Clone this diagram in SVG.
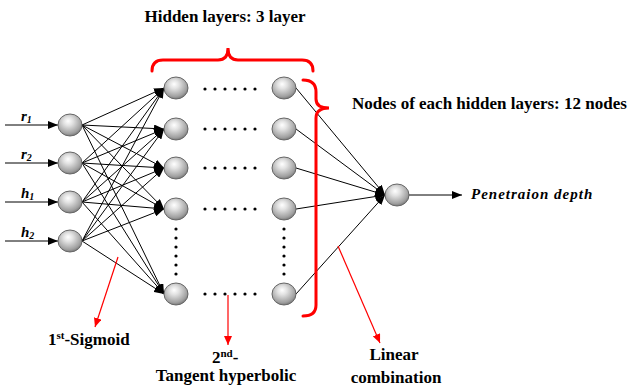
<svg xmlns="http://www.w3.org/2000/svg" width="634" height="389" viewBox="0 0 634 389">
<defs>
<radialGradient id="sphere" cx="0.45" cy="0.38" r="0.65" fx="0.42" fy="0.32">
<stop offset="0" stop-color="#ffffff"/>
<stop offset="0.3" stop-color="#e2e2e2"/>
<stop offset="0.8" stop-color="#a0a0a0"/>
<stop offset="1" stop-color="#707070"/>
</radialGradient>
<marker id="ah" markerUnits="userSpaceOnUse" markerWidth="10" markerHeight="8" refX="10" refY="4" orient="auto">
<path d="M0,0 L10,4 L0,8 z" fill="#000"/>
</marker>
<marker id="rh" markerUnits="userSpaceOnUse" markerWidth="9" markerHeight="8" refX="9" refY="4" orient="auto">
<path d="M0,0 L9,4 L0,8 z" fill="#ff0000"/>
</marker>
</defs>
<style>
.node{fill:url(#sphere);stroke:#666;stroke-width:1}
.c{stroke:#000;stroke-width:1;fill:none;marker-end:url(#ah)}
.red{stroke:#ff0000;stroke-width:1.2;fill:none;marker-end:url(#rh)}
.brace{stroke:#ff0000;stroke-width:3;fill:none;stroke-linecap:round}
.t{font-family:"Liberation Serif",serif;font-weight:bold;font-size:17px;fill:#000}
.m{font-family:"Liberation Serif",serif;font-weight:bold;font-style:italic;font-size:15px;fill:#000}
.dot{fill:#000}
</style>
<rect width="634" height="389" fill="#fff"/>
<g id="connectors">
<line class="c" x1="5" y1="125" x2="58" y2="125"/>
<line class="c" x1="5" y1="163" x2="58" y2="163"/>
<line class="c" x1="5" y1="202" x2="58" y2="202"/>
<line class="c" x1="5" y1="241" x2="58" y2="241"/>
<line class="c" x1="82" y1="125" x2="164" y2="88"/>
<line class="c" x1="82" y1="125" x2="164" y2="129"/>
<line class="c" x1="82" y1="125" x2="164" y2="168"/>
<line class="c" x1="82" y1="125" x2="164" y2="209"/>
<line class="c" x1="82" y1="125" x2="164" y2="294"/>
<line class="c" x1="82" y1="163" x2="164" y2="88"/>
<line class="c" x1="82" y1="163" x2="164" y2="129"/>
<line class="c" x1="82" y1="163" x2="164" y2="168"/>
<line class="c" x1="82" y1="163" x2="164" y2="209"/>
<line class="c" x1="82" y1="163" x2="164" y2="294"/>
<line class="c" x1="82" y1="202" x2="164" y2="88"/>
<line class="c" x1="82" y1="202" x2="164" y2="129"/>
<line class="c" x1="82" y1="202" x2="164" y2="168"/>
<line class="c" x1="82" y1="202" x2="164" y2="209"/>
<line class="c" x1="82" y1="202" x2="164" y2="294"/>
<line class="c" x1="82" y1="241" x2="164" y2="88"/>
<line class="c" x1="82" y1="241" x2="164" y2="129"/>
<line class="c" x1="82" y1="241" x2="164" y2="168"/>
<line class="c" x1="82" y1="241" x2="164" y2="209"/>
<line class="c" x1="82" y1="241" x2="164" y2="294"/>
<line class="c" x1="296" y1="88" x2="385" y2="195"/>
<line class="c" x1="296" y1="129" x2="385" y2="195"/>
<line class="c" x1="296" y1="168" x2="385" y2="195"/>
<line class="c" x1="296" y1="209" x2="385" y2="195"/>
<line class="c" x1="296" y1="294" x2="385" y2="195"/>
<line class="c" x1="409" y1="195" x2="462" y2="195"/>
<line class="red" x1="118" y1="257" x2="95" y2="327"/>
<line class="red" x1="228" y1="295" x2="228" y2="345"/>
<line class="red" x1="338" y1="246" x2="380" y2="343"/>
</g>
<g id="braces">
<path class="brace" d="M152,71 Q152,60 163,60 L218,60 Q228,60 228,48 Q228,60 238,60 L302,60 Q313,60 313,71"/>
<path class="brace" d="M303,80 Q316,80 316,92 L316,99 Q316,108 329,108 Q316,108 316,118 L316,305 Q316,316 303,316"/>
</g>
<g id="input-nodes">
<ellipse id="in-r1" class="node" cx="70" cy="125" rx="12" ry="11"/>
<ellipse id="in-r2" class="node" cx="70" cy="163" rx="12" ry="11"/>
<ellipse id="in-h1" class="node" cx="70" cy="202" rx="12" ry="11"/>
<ellipse id="in-h2" class="node" cx="70" cy="241" rx="12" ry="11"/>
</g>
<g id="hidden-first">
<ellipse class="node" cx="176" cy="88" rx="12" ry="11"/>
<ellipse class="node" cx="176" cy="129" rx="12" ry="11"/>
<ellipse class="node" cx="176" cy="168" rx="12" ry="11"/>
<ellipse class="node" cx="176" cy="209" rx="12" ry="11"/>
<ellipse class="node" cx="176" cy="294" rx="12" ry="11"/>
</g>
<g id="hidden-last">
<ellipse class="node" cx="284" cy="88" rx="12" ry="11"/>
<ellipse class="node" cx="284" cy="129" rx="12" ry="11"/>
<ellipse class="node" cx="284" cy="168" rx="12" ry="11"/>
<ellipse class="node" cx="284" cy="209" rx="12" ry="11"/>
<ellipse class="node" cx="284" cy="294" rx="12" ry="11"/>
</g>
<g id="output-node">
<ellipse class="node" cx="397" cy="195" rx="12" ry="11"/>
</g>
<g id="dots">
<g><circle class="dot" cx="205" cy="89" r="1.6"/><circle class="dot" cx="215" cy="89" r="1.6"/><circle class="dot" cx="225" cy="89" r="1.6"/><circle class="dot" cx="235" cy="89" r="1.6"/><circle class="dot" cx="245" cy="89" r="1.6"/><circle class="dot" cx="255" cy="89" r="1.6"/></g>
<g><circle class="dot" cx="205" cy="129" r="1.6"/><circle class="dot" cx="215" cy="129" r="1.6"/><circle class="dot" cx="225" cy="129" r="1.6"/><circle class="dot" cx="235" cy="129" r="1.6"/><circle class="dot" cx="245" cy="129" r="1.6"/><circle class="dot" cx="255" cy="129" r="1.6"/></g>
<g><circle class="dot" cx="205" cy="168" r="1.6"/><circle class="dot" cx="215" cy="168" r="1.6"/><circle class="dot" cx="225" cy="168" r="1.6"/><circle class="dot" cx="235" cy="168" r="1.6"/><circle class="dot" cx="245" cy="168" r="1.6"/><circle class="dot" cx="255" cy="168" r="1.6"/></g>
<g><circle class="dot" cx="205" cy="209" r="1.6"/><circle class="dot" cx="215" cy="209" r="1.6"/><circle class="dot" cx="225" cy="209" r="1.6"/><circle class="dot" cx="235" cy="209" r="1.6"/><circle class="dot" cx="245" cy="209" r="1.6"/><circle class="dot" cx="255" cy="209" r="1.6"/></g>
<g><circle class="dot" cx="205" cy="294" r="1.6"/><circle class="dot" cx="215" cy="294" r="1.6"/><circle class="dot" cx="225" cy="294" r="1.6"/><circle class="dot" cx="235" cy="294" r="1.6"/><circle class="dot" cx="245" cy="294" r="1.6"/><circle class="dot" cx="255" cy="294" r="1.6"/></g>
<g><circle class="dot" cx="176" cy="229" r="1.6"/><circle class="dot" cx="176" cy="238" r="1.6"/><circle class="dot" cx="176" cy="247" r="1.6"/><circle class="dot" cx="176" cy="256" r="1.6"/><circle class="dot" cx="176" cy="265" r="1.6"/><circle class="dot" cx="176" cy="274" r="1.6"/></g>
<g><circle class="dot" cx="284" cy="229" r="1.6"/><circle class="dot" cx="284" cy="238" r="1.6"/><circle class="dot" cx="284" cy="247" r="1.6"/><circle class="dot" cx="284" cy="256" r="1.6"/><circle class="dot" cx="284" cy="265" r="1.6"/><circle class="dot" cx="284" cy="274" r="1.6"/></g>
</g>
<g id="labels">
<text class="m" x="21" y="121">r<tspan font-size="10" dy="2">1</tspan></text>
<text class="m" x="21" y="159">r<tspan font-size="10" dy="2">2</tspan></text>
<text class="m" x="21" y="198">h<tspan font-size="10" dy="2">1</tspan></text>
<text class="m" x="21" y="237">h<tspan font-size="10" dy="2">2</tspan></text>
<text class="m" x="471" y="199" font-size="14.5" letter-spacing="1">Penetraion depth</text>
<text class="t" x="225" y="22" text-anchor="middle">Hidden layers: 3 layer</text>
<text class="t" x="352" y="109">Nodes of each hidden layers: 12 nodes</text>
<text class="t" x="48" y="345">1<tspan font-size="11" dy="-6">st</tspan><tspan dy="6">-Sigmoid</tspan></text>
<text class="t" x="212" y="363">2<tspan font-size="11" dy="-6">nd</tspan><tspan dy="6">-</tspan></text>
<text class="t" x="226" y="381" text-anchor="middle">Tangent hyperbolic</text>
<text class="t" x="394" y="360" text-anchor="middle">Linear</text>
<text class="t" x="396" y="383" text-anchor="middle">combination</text>
</g>
</svg>
